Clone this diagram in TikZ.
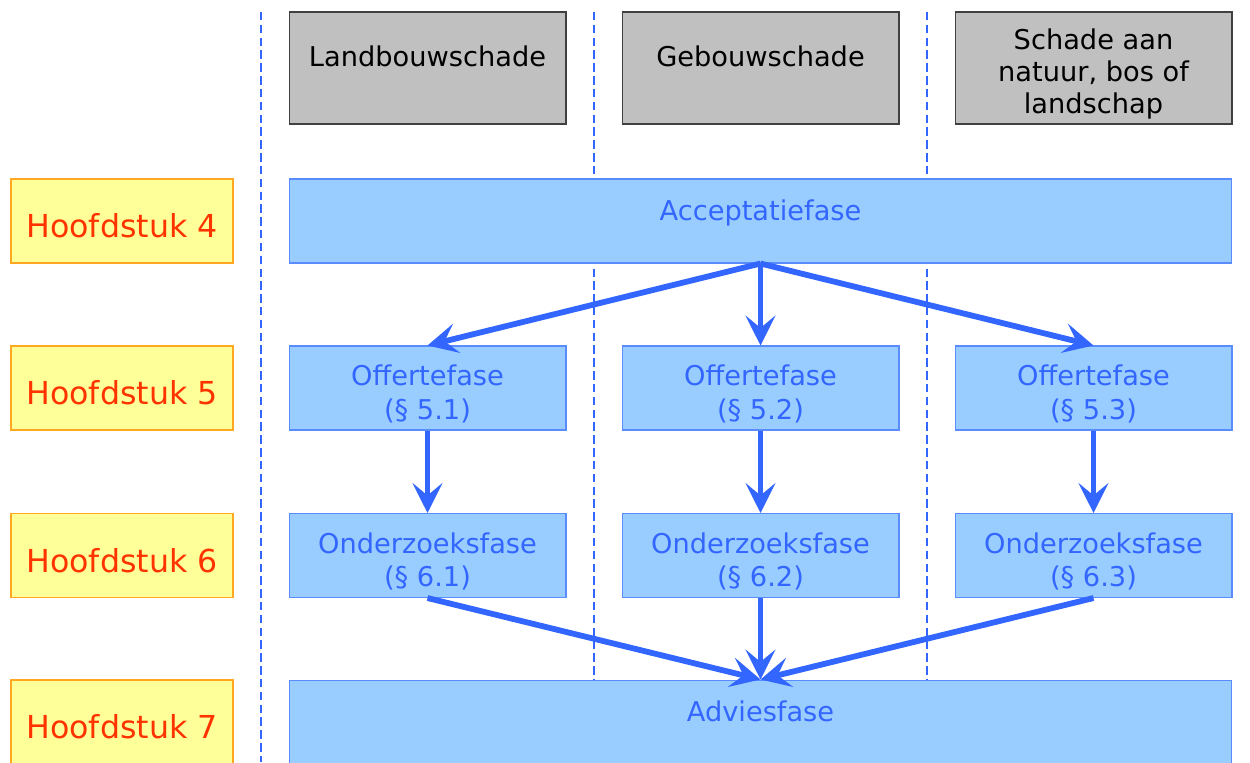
\documentclass[tikz,border=0pt]{standalone}
\usepackage{fontspec}
\setmainfont{DejaVu Sans}
\usepackage{xcolor}
\usepackage{tikz}
\usetikzlibrary{positioning,arrows.meta}

\definecolor{phaseblue}{HTML}{99CCFF}
\definecolor{phaseline}{HTML}{5A8CFF}
\definecolor{darkblue}{HTML}{3366FF}
\definecolor{chapyellow}{HTML}{FFFF99}
\definecolor{chaporange}{HTML}{FFA820}
\definecolor{chapred}{HTML}{FF3300}
\definecolor{typegray}{HTML}{C0C0C0}

\begin{document}
\begin{tikzpicture}[x=0.02cm, y=-0.02cm,
    typebox/.style={draw=black!75, fill=typegray, line width=0.6pt, minimum width=5.54cm, minimum height=2.24cm,
        inner sep=0pt},
    typetext/.style={align=center, font=\fontsize{15.5}{18}\selectfont, inner sep=0pt},
    chapbox/.style={draw=chaporange, fill=chapyellow, line width=0.6pt, minimum width=4.44cm, minimum height=1.68cm,
        inner sep=0pt, label={[text=chapred, font=\fontsize{18}{21}\selectfont, inner sep=0pt, yshift=-0.1cm]center:#1}},
    phasebox/.style={draw=phaseline, fill=phaseblue, line width=0.6pt, minimum width=5.54cm, minimum height=1.68cm,
        inner sep=0pt, label={[phasetext, yshift=-0.12cm]center:#1}},
    phasetext/.style={align=center, text=darkblue, font=\fontsize{15.5}{19}\selectfont, inner sep=0pt},
    widebox/.style={draw=phaseline, fill=phaseblue, line width=0.6pt, minimum width=18.86cm, inner sep=0pt,
        label={[phasetext, anchor=north, yshift=-0.42cm]north:#1}},
    column/.style={darkblue, line width=1.6pt, dash pattern=on 4.8pt off 2.5pt},
    flow/.style={-{Stealth[length=17pt, width=17pt, inset=7pt]}, darkblue, line width=3.3pt}]
    \clip (0,0) rectangle (1250,762);

    % kolomgrenzen
    \draw [column] (261,12) -- (261,762);
    \draw [column] (594,12) -- (594,762);
    \draw [column] (927,12) -- (927,762);

    % soorten schade
    \node [typebox, label={[typetext, yshift=0.24cm]center:Landbouwschade}] (land) at (427.5,68) {};
    \node [typebox, label={[typetext, yshift=0.24cm]center:Gebouwschade}] (gebouw) at (760.5,68) {};
    \node [typebox, label={[typetext, yshift=-0.12cm]center:Schade aan\\natuur, bos of\\landschap}] (natuur) at (1093.5,68) {};

    % hoofdstukken
    \node [chapbox={Hoofdstuk 4}] (h4) at (122,221) {};
    \node [chapbox={Hoofdstuk 5}] (h5) at (122,388) {};
    \node [chapbox={Hoofdstuk 6}] (h6) at (122,555.5) {};
    \node [chapbox={Hoofdstuk 7}] (h7) at (122,722) {};

    % fasen
    \node [widebox={Acceptatiefase}, minimum height=1.68cm] (accept) at (760.5,221) {};
    \node [phasebox={Offertefase\\(§ 5.1)}] (off1) at (427.5,388) {};
    \node [phasebox={Offertefase\\(§ 5.2)}] (off2) at (760.5,388) {};
    \node [phasebox={Offertefase\\(§ 5.3)}] (off3) at (1093.5,388) {};
    \node [phasebox={Onderzoeksfase\\(§ 6.1)}] (ond1) at (427.5,555.5) {};
    \node [phasebox={Onderzoeksfase\\(§ 6.2)}] (ond2) at (760.5,555.5) {};
    \node [phasebox={Onderzoeksfase\\(§ 6.3)}] (ond3) at (1093.5,555.5) {};
    \node [widebox={Adviesfase}, minimum height=2.4cm] (advies) at (760.5,740) {};

    % pijlen
    \draw [flow] (accept.south) -- (off1.north);
    \draw [flow] (accept.south) -- (off2.north);
    \draw [flow] (accept.south) -- (off3.north);
    \draw [flow] (off1) -- (ond1);
    \draw [flow] (off2) -- (ond2);
    \draw [flow] (off3) -- (ond3);
    \draw [flow] (ond1.south) -- (advies.north);
    \draw [flow] (ond2.south) -- (advies.north);
    \draw [flow] (ond3.south) -- (advies.north);
\end{tikzpicture}
\end{document}
